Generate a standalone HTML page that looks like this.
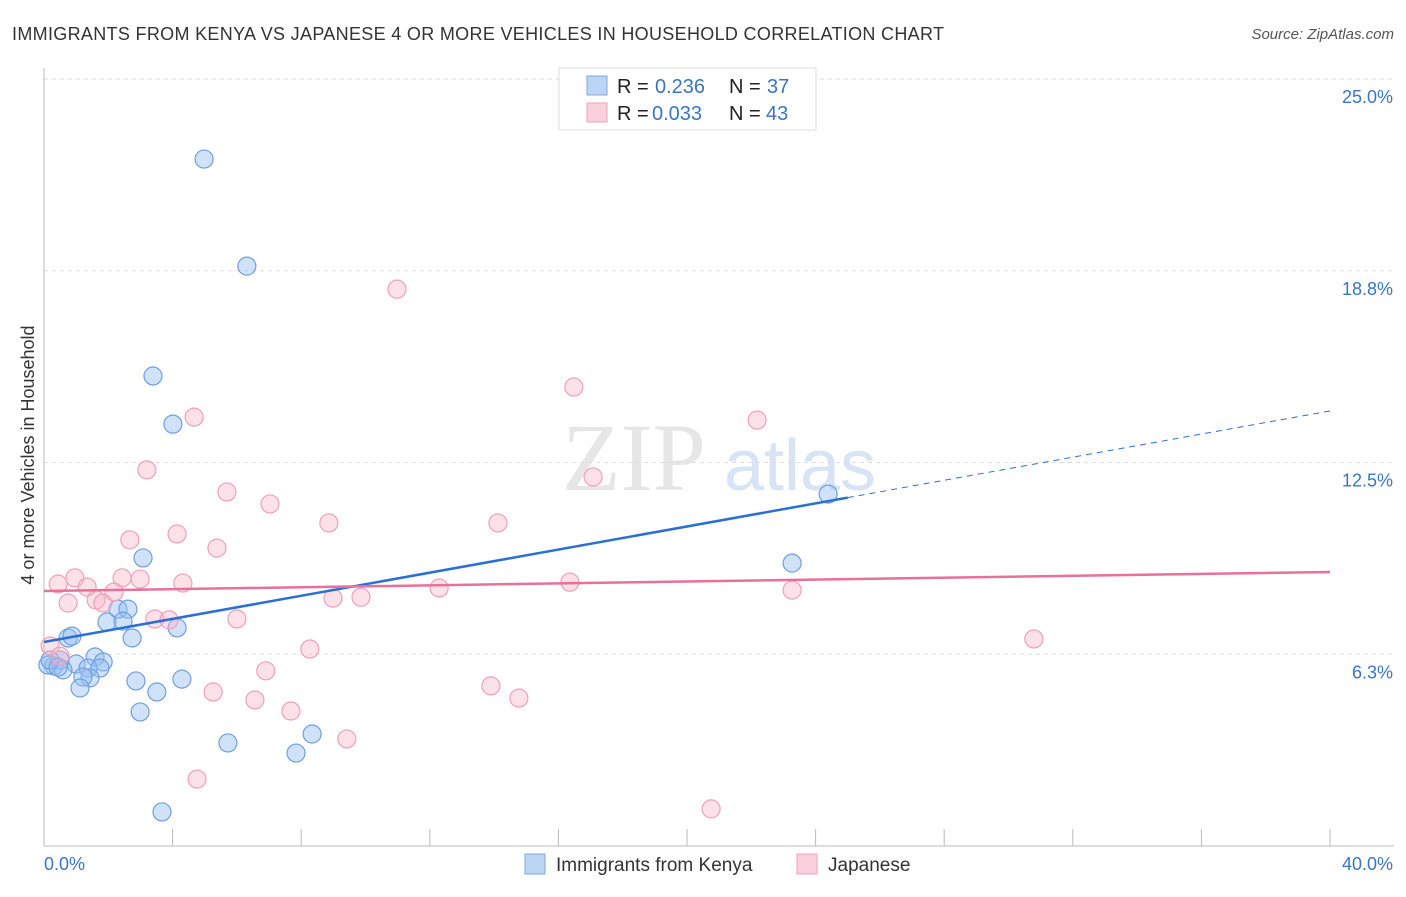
<!DOCTYPE html>
<html><head><meta charset="utf-8"><style>
body{margin:0;background:#fff;font-family:"Liberation Sans",sans-serif;}
</style></head><body>
<svg width="1406" height="892" xmlns="http://www.w3.org/2000/svg" font-family="Liberation Sans, sans-serif">
<text x="12" y="40" font-size="18" fill="#333" textLength="932">IMMIGRANTS FROM KENYA VS JAPANESE 4 OR MORE VEHICLES IN HOUSEHOLD CORRELATION CHART</text>
<text x="1394" y="39" font-size="15" fill="#555" font-style="italic" text-anchor="end">Source: ZipAtlas.com</text>
<text x="634" y="490" font-size="96" fill="#e6e6e6" font-family="Liberation Serif, serif" text-anchor="middle">ZIP</text>
<text x="800" y="490" font-size="72" fill="#d6e4f5" text-anchor="middle">atlas</text>
<g id="grid"></g>
<g id="axes"></g>
<text transform="translate(34,455) rotate(-90)" font-size="18" fill="#333" text-anchor="middle">4 or more Vehicles in Household</text>
<text x="44" y="870" font-size="18" fill="#3a75c4">0.0%</text>
<text x="1393" y="870" font-size="18" fill="#3a75c4" text-anchor="end">40.0%</text>
<g id="pts"></g>
<g id="lines"></g>
<g>
<rect x="559" y="68" width="257" height="62" fill="#fff" stroke="#ddd"/>
<rect x="587" y="76" width="20" height="19" fill="#bcd5f5" stroke="#7ea8e0"/>
<rect x="587" y="103" width="20" height="19" fill="#fbcfdc" stroke="#f0a0bb"/>
<text x="617" y="93" font-size="20" fill="#222">R =</text>
<text x="655" y="93" font-size="20" fill="#3a75c4">0.236</text>
<text x="729" y="93" font-size="20" fill="#222">N =</text>
<text x="767" y="93" font-size="20" fill="#3a75c4">37</text>
<text x="617" y="120" font-size="20" fill="#222">R =</text>
<text x="652" y="120" font-size="20" fill="#3a75c4">0.033</text>
<text x="729" y="120" font-size="20" fill="#222">N =</text>
<text x="766" y="120" font-size="20" fill="#3a75c4">43</text>
</g>
<g>
<rect x="525" y="854" width="20" height="20" fill="#bcd5f5" stroke="#7ea8e0"/>
<text x="556" y="871" font-size="19" fill="#333">Immigrants from Kenya</text>
<rect x="797" y="854" width="20" height="20" fill="#fbcfdc" stroke="#f0a0bb"/>
<text x="828" y="871" font-size="19" fill="#333">Japanese</text>
</g>
</svg>
<script>
const yTicks=[6.25,12.5,18.75,25];
const yTickLabels=["6.3%","12.5%","18.8%","25.0%"];
const xTicks=[0,4,8,12,16,20,24,28,32,36,40];
const kenyaX=[4.98,6.31,3.39,4.01,24.39,23.27,3.08,2.30,2.61,1.96,2.46,2.74,4.14,0.75,0.87,1.59,1.84,1.0,1.37,1.74,0.31,0.5,0.12,0.59,1.43,1.21,1.12,2.86,4.29,3.51,2.99,5.72,8.34,7.84,3.67,0.19,0.44];
const kenyaY=[22.39,18.9,15.32,13.75,11.47,9.22,9.39,7.72,7.72,7.3,7.33,6.78,7.11,6.78,6.84,6.16,6.0,5.93,5.8,5.8,5.87,6.06,5.9,5.74,5.48,5.51,5.15,5.38,5.44,5.02,4.37,3.36,3.65,3.03,1.11,6.06,5.83];
const japX=[0.44,0.96,1.34,0.75,1.62,1.83,2.18,2.43,2.99,2.67,3.2,4.14,4.32,3.45,3.89,4.67,5.38,5.69,6.0,7.03,6.9,5.26,6.56,7.68,8.27,8.86,8.99,9.86,9.42,10.98,12.29,13.9,14.12,14.77,16.48,16.36,17.08,22.18,23.27,20.75,30.79,4.76,0.19,0.5];
const japY=[8.54,8.74,8.44,7.92,8.02,7.92,8.28,8.74,8.7,9.98,12.26,10.17,8.57,7.4,7.37,13.98,9.71,11.54,7.4,11.15,5.71,5.02,4.76,4.4,6.42,10.53,8.08,8.11,3.49,18.15,8.41,5.22,10.53,4.82,14.96,8.6,12.03,13.88,8.34,1.21,6.75,2.18,6.52,6.19];
const kenyaTrend=[6.65,14.18], kenyaSolidEnd=25.0;
const japTrend=[8.31,8.93];
const X=v=>44+v*32.15, Y=v=>846-v*30.68;
const NS="http://www.w3.org/2000/svg";
function mk(t,a,p){const e=document.createElementNS(NS,t);for(const k in a)e.setAttribute(k,a[k]);p.appendChild(e);return e;}
const grid=document.getElementById('grid'),axes=document.getElementById('axes'),pts=document.getElementById('pts'),lines=document.getElementById('lines');
yTicks.forEach((t,i)=>{
 const l=mk('line',{x1:44,x2:1394,y1:Y(t),y2:Y(t),stroke:'#ddd','stroke-dasharray':'4,4'},grid);
 
 
 const tx=mk('text',{x:1393,y:Y(t)+24,'font-size':18,fill:'#3a75c4','text-anchor':'end'},grid);
 tx.textContent=yTickLabels[i];
 
 
});
const ya=mk('line',{x1:44,x2:44,y1:68,y2:846,stroke:'#bbb'},axes);


const xa=mk('line',{x1:44,x2:1394,y1:846,y2:846,stroke:'#bbb'},axes);


xTicks.forEach(t=>{
 const l=mk('line',{x1:X(t),x2:X(t),y1:829,y2:846,stroke:'#bbb'},axes);
 
 
});
kenyaX.forEach((x,i)=>{
 const c=mk('circle',{cx:X(x),cy:Y(kenyaY[i]),r:9,fill:'rgba(150,190,240,0.45)',stroke:'#6f9fe0','stroke-width':1.2},pts);
 
 
});
japX.forEach((x,i)=>{
 const c=mk('circle',{cx:X(x),cy:Y(japY[i]),r:9,fill:'rgba(248,180,200,0.4)',stroke:'#f0a0bb','stroke-width':1.2},pts);
 
 
});
const ky=x=>kenyaTrend[0]+(kenyaTrend[1]-kenyaTrend[0])*x/40;
const l1=mk('line',{x1:X(0),y1:Y(ky(0)),x2:X(kenyaSolidEnd),y2:Y(ky(kenyaSolidEnd)),stroke:'#2a6fd6','stroke-width':2.5},lines);


const l2=mk('line',{x1:X(kenyaSolidEnd),y1:Y(ky(kenyaSolidEnd)),x2:X(40),y2:Y(ky(40)),stroke:'#2a6fd6','stroke-width':1,'stroke-dasharray':'6,5'},lines);


const l3=mk('line',{x1:X(0),y1:Y(japTrend[0]),x2:X(40),y2:Y(japTrend[1]),stroke:'#e8709a','stroke-width':2.5},lines);


</script>
</body></html>
